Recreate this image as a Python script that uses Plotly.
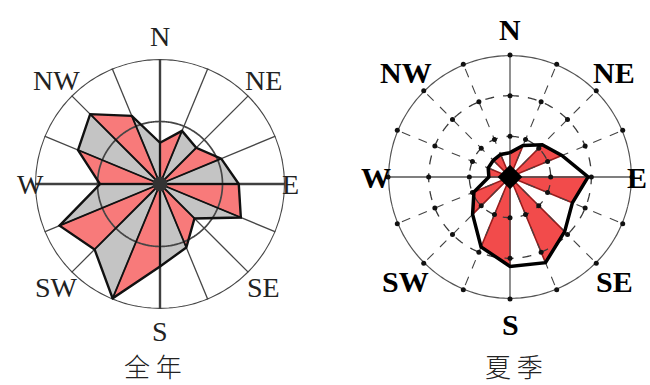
import math
import numpy as np
import plotly.graph_objects as go

# 16-point compass sectors, clockwise from north
directions = ["N", "NNE", "NE", "ENE", "E", "ESE", "SE", "SSE",
              "S", "SSW", "SW", "WSW", "W", "WNW", "NW", "NNW"]
compass_labels = ["N", "NE", "E", "SE", "S", "SW", "W", "NW"]

# wind-direction frequency (%) per sector
annual_freq = [3.3, 4.6, 4.1, 5.3, 6.3, 7.0, 3.9, 5.5,
               6.6, 9.9, 7.4, 8.7, 4.8, 7.1, 7.9, 5.9]
summer_freq = [3.0, 4.2, 5.6, 6.9, 9.6, 8.3, 9.5, 11.4,
               11.0, 9.3, 6.5, 4.8, 2.6, 2.9, 2.9, 3.0]

annual_rings = [5, 10]
summer_rings = [5, 10, 15]

captions = ["全年", "夏季"]

theta = [i * 360 / len(directions) for i in range(len(directions))]
label_theta = theta[::2]
circle_theta = np.linspace(0, 360, 361)

W, H = 650, 385
fig = go.Figure()


def sector_triangles(freq):
    """Alternate sectors (N-NNE, NE-ENE, ...) as closed triangles from the centre."""
    rs, ts = [], []
    n = len(freq)
    for i in range(0, n, 2):
        j = (i + 1) % n
        rs += [0, freq[i], freq[j], 0, None]
        ts += [theta[i], theta[i], theta[j], theta[j], None]
    return rs, ts


def spokes(rmax, which):
    rs, ts = [], []
    for k, t in enumerate(theta):
        if which(k):
            rs += [0, rmax, None]
            ts += [t, t, None]
    return rs, ts


def compass_annotations(cx, cy, rad, k_vert, k_east, k_west, k_diag, font):
    """Direction names placed just outside the outer ring of a rose."""
    out = []
    for name, t in zip(compass_labels, label_theta):
        if t % 180 == 0:
            k = k_vert
        elif t == 90:
            k = k_east
        elif t == 270:
            k = k_west
        else:
            k = k_diag
        a = math.radians(t)
        px = cx + k * rad * math.sin(a)
        py = cy - k * rad * math.cos(a)
        out.append(dict(text=name, x=px / W, y=(H - py) / H, xref="paper", yref="paper",
                        xanchor="center", yanchor="middle", showarrow=False, font=font))
    return out


def add(trace):
    fig.add_trace(trace)


# ---------------- annual rose (left) ----------------
sp = "polar"
rmax = annual_rings[-1]
closed_r = annual_freq + [annual_freq[0]]
closed_t = theta + [theta[0]]
add(go.Scatterpolar(r=closed_r, theta=closed_t, mode="lines", fill="toself",
                    fillcolor="#c4c4c4", line=dict(width=0), subplot=sp))
tr, tt = sector_triangles(annual_freq)
add(go.Scatterpolar(r=tr, theta=tt, mode="lines", fill="toself",
                    fillcolor="#f87a7a", line=dict(width=0), subplot=sp))
for ring in annual_rings:
    add(go.Scatterpolar(r=[ring] * len(circle_theta), theta=circle_theta, mode="lines",
                        line=dict(color="#454545", width=2.3 if ring == rmax else 1.7),
                        subplot=sp))
rr, rt = spokes(rmax, lambda k: k % 4 != 0)
add(go.Scatterpolar(r=rr, theta=rt, mode="lines", line=dict(color="#454545", width=1.3), subplot=sp))
rr, rt = spokes(rmax, lambda k: k % 4 == 0)
add(go.Scatterpolar(r=rr, theta=rt, mode="lines", line=dict(color="#404040", width=2.4), subplot=sp))
# radial edges of the sectors
er, et = [], []
for v, t in zip(annual_freq, theta):
    er += [0, v, None]
    et += [t, t, None]
add(go.Scatterpolar(r=er, theta=et, mode="lines", line=dict(color="#111111", width=1.8), subplot=sp))
add(go.Scatterpolar(r=closed_r, theta=closed_t, mode="lines",
                    line=dict(color="#111111", width=2.4), subplot=sp))
add(go.Scatterpolar(r=[0], theta=[0], mode="markers",
                    marker=dict(size=15, color="#333333"), subplot=sp))

# ---------------- summer rose (right) ----------------
sp = "polar2"
rmax = summer_rings[-1]
closed_r = summer_freq + [summer_freq[0]]
tr, tt = sector_triangles(summer_freq)
add(go.Scatterpolar(r=tr, theta=tt, mode="lines", fill="toself",
                    fillcolor="#f24b4b", line=dict(color="#9a1c1c", width=1.6), subplot=sp))
for ring in summer_rings[:-1]:
    add(go.Scatterpolar(r=[ring] * len(circle_theta), theta=circle_theta, mode="lines",
                        line=dict(color="#3a3a3a", width=1.3, dash="dash"), subplot=sp))
add(go.Scatterpolar(r=[rmax] * len(circle_theta), theta=circle_theta, mode="lines",
                    line=dict(color="#555555", width=2.5), subplot=sp))
rr, rt = spokes(rmax, lambda k: k % 4 != 0)
add(go.Scatterpolar(r=rr, theta=rt, mode="lines",
                    line=dict(color="#444444", width=1.1, dash="dash"), subplot=sp))
rr, rt = spokes(rmax, lambda k: k % 4 == 0)
add(go.Scatterpolar(r=rr, theta=rt, mode="lines", line=dict(color="#555555", width=1.3), subplot=sp))
dr, dt = [], []
for ring in summer_rings:
    for t in theta:
        dr.append(ring)
        dt.append(t)
add(go.Scatterpolar(r=dr, theta=dt, mode="markers",
                    marker=dict(size=5, color="#111111"), subplot=sp))
add(go.Scatterpolar(r=closed_r, theta=closed_t, mode="lines",
                    line=dict(color="#000000", width=3.5), subplot=sp))
add(go.Scatterpolar(r=[0], theta=[0], mode="markers",
                    marker=dict(size=19, color="#000000", symbol="diamond"), subplot=sp))


def polar_layout(cx, cy, rad, rmax):
    return dict(
        domain=dict(x=[(cx - rad) / W, (cx + rad) / W],
                    y=[(H - cy - rad) / H, (H - cy + rad) / H]),
        bgcolor="rgba(0,0,0,0)",
        radialaxis=dict(visible=False, range=[0, rmax]),
        angularaxis=dict(direction="clockwise", rotation=90, thetaunit="degrees",
                         showgrid=False, showline=False, showticklabels=False, ticks=""),
    )


LEFT = (160, 184, 125)
RIGHT = (510, 177, 122)

cap_font = dict(family="Noto Sans CJK SC", size=26, color="#222222", weight=300)
annotations = []
annotations += compass_annotations(*LEFT, 1.18, 1.04, 1.04, 1.17,
                                   dict(family="Liberation Serif", size=28, color="#222222"))
annotations += compass_annotations(*RIGHT, 1.21, 1.045, 1.10, 1.21,
                                   dict(family="Liberation Serif", size=30, color="#000000",
                                        weight="bold"))
annotations += [
    dict(text=" ".join(captions[0]), x=153 / W, y=(H - 365) / H, xref="paper", yref="paper",
         xanchor="center", yanchor="middle", showarrow=False, font=cap_font),
    dict(text=" ".join(captions[1]), x=514 / W, y=(H - 365) / H, xref="paper", yref="paper",
         xanchor="center", yanchor="middle", showarrow=False, font=cap_font),
]

fig.update_layout(
    width=W, height=H,
    margin=dict(l=0, r=0, t=0, b=0),
    paper_bgcolor="white",
    plot_bgcolor="white",
    showlegend=False,
    polar=polar_layout(*LEFT, annual_rings[-1]),
    polar2=polar_layout(*RIGHT, summer_rings[-1]),
    annotations=annotations,
)

fig.write_html("out.html")
